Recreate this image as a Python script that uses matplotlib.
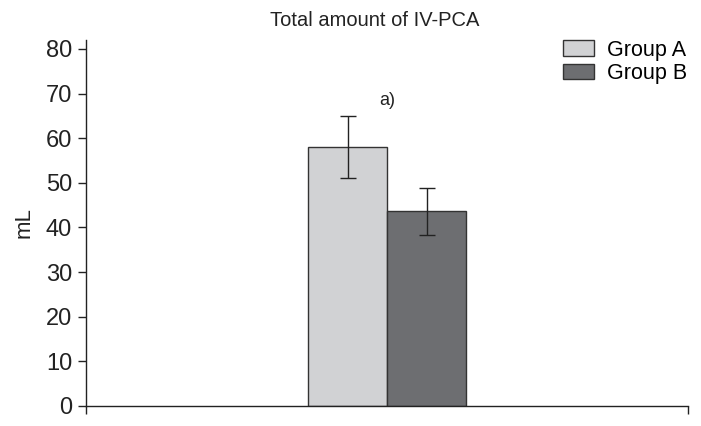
import matplotlib
matplotlib.use("Agg")
import matplotlib.pyplot as plt

plt.rcParams['font.family'] = ['Liberation Sans', 'DejaVu Sans']

groups = ["Group A", "Group B"]
means = [58.0, 43.6]
errors = [6.9, 5.3]
colors = ["#d1d2d4", "#6d6e71"]
annotation = "a)"

fig = plt.figure(figsize=(7.01, 4.26), dpi=100)
ax = fig.add_axes([0.1227, 0.047, 0.8588, 0.859])

width = 0.2625
offsets = [-width / 2, width / 2]
for name, m, e, c, off in zip(groups, means, errors, colors, offsets):
    ax.bar(off, m, width=width, color=c, edgecolor="#333333", linewidth=1.0,
           yerr=e, capsize=6, error_kw=dict(ecolor="#222222", elinewidth=1.0, capthick=1.0),
           label=name)

ax.text(0, 68.4, annotation, ha="center", va="center", fontsize=13, color="#222222")

ax.set_xlim(-1, 1)
ax.set_ylim(0, 82)
ax.set_yticks(range(0, 81, 10))
ax.set_xticks([-1, 1])
ax.set_xticklabels([])
ax.tick_params(axis="both", direction="out", length=6, width=1.0, color="#222222",
               labelsize=17, labelcolor="#222222", pad=4)
ax.set_ylabel("mL", fontsize=16, color="#222222", labelpad=8)
for s in ["top", "right"]:
    ax.spines[s].set_visible(False)
for s in ["left", "bottom"]:
    ax.spines[s].set_color("#222222")
    ax.spines[s].set_linewidth(1.0)

fig.text(375 / 701, 1 - 20 / 426, "Total amount of IV-PCA", ha="center", va="center",
         fontsize=14.5, color="#222222")

ax.legend(loc="upper right", bbox_to_anchor=(1.012, 1.025), frameon=False, fontsize=15.5,
          handlelength=1.4, handleheight=0.74, handletextpad=0.6, labelspacing=0.12,
          borderaxespad=0)

fig.savefig("out.png", dpi=100)
